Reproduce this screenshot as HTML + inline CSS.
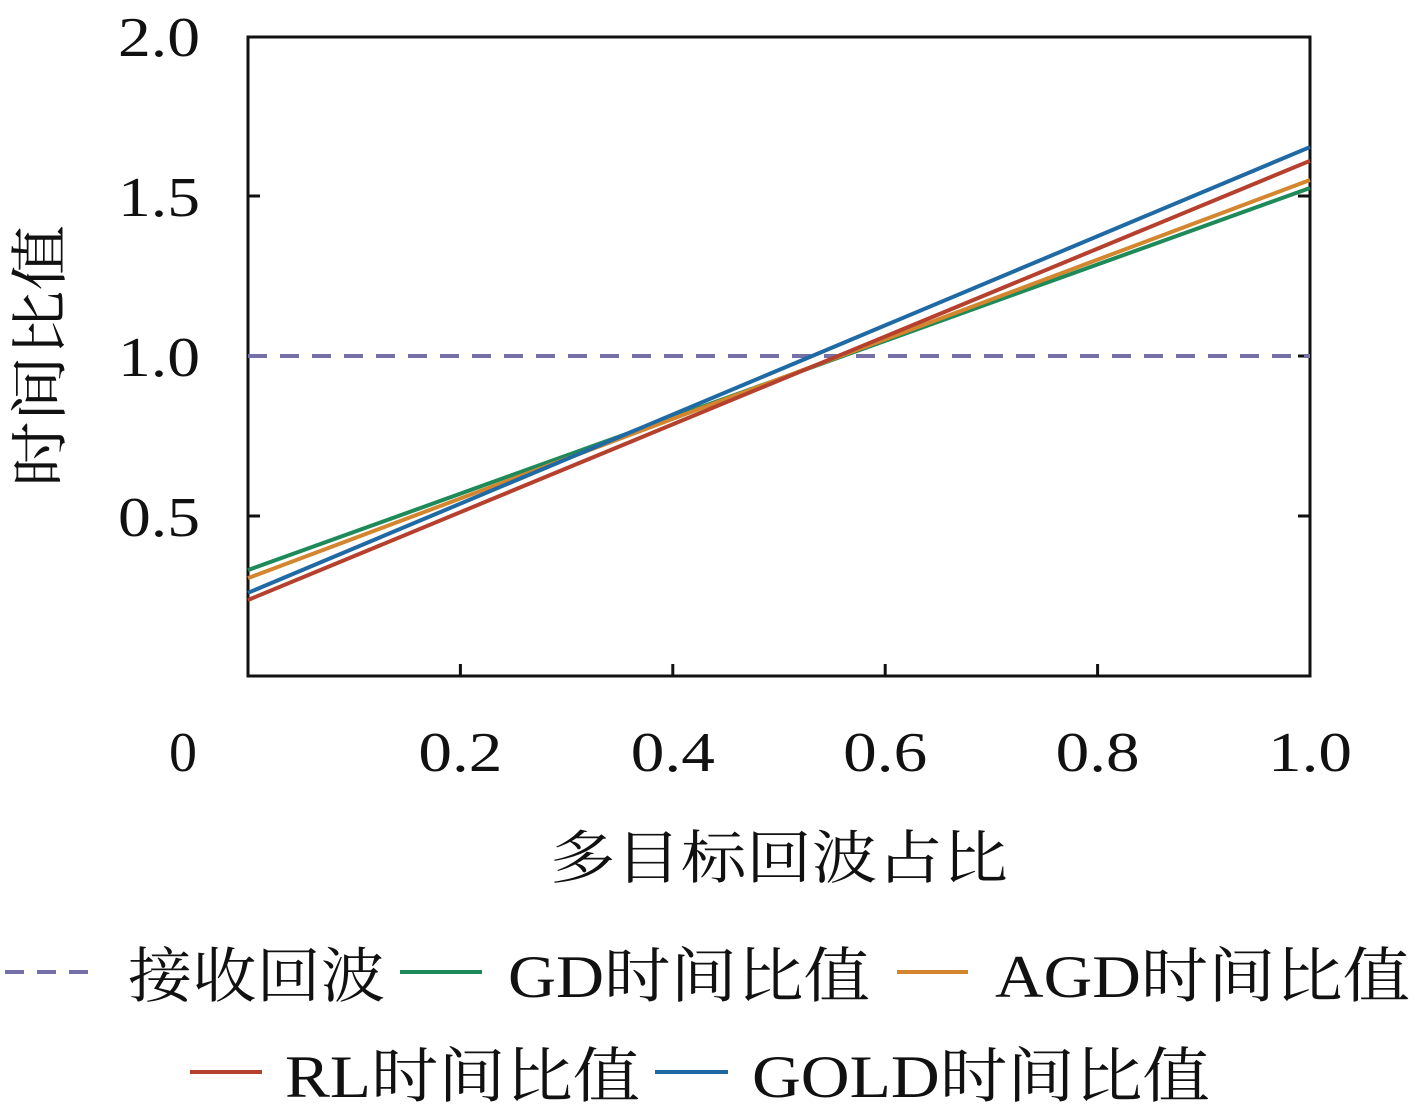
<!DOCTYPE html>
<html><head><meta charset="utf-8"><style>
html,body{margin:0;padding:0;background:#fff;}
svg text{font-family:"Liberation Serif","Noto Serif CJK SC","Noto Sans CJK SC",serif;fill:#111;}
</style></head><body>
<svg id="chart" width="1417" height="1111" viewBox="0 0 1417 1111" xmlns="http://www.w3.org/2000/svg">
<rect x="248" y="37" width="1062" height="639" fill="none" stroke="#111" stroke-width="3"/>
<g id="ticks"></g>
<g id="series"></g>
<text transform="translate(60,356) rotate(-90)" text-anchor="middle" font-size="58" textLength="262" lengthAdjust="spacingAndGlyphs">时间比值</text>
<text x="779" y="878" text-anchor="middle" font-size="58" textLength="458" lengthAdjust="spacingAndGlyphs">多目标回波占比</text>
<g>
<line x1="5" y1="972" x2="100" y2="972" stroke="#7570a8" stroke-width="4" stroke-dasharray="19,13"/>
<text x="128" y="997" font-size="60" textLength="257" lengthAdjust="spacingAndGlyphs">接收回波</text>
<line x1="400" y1="972" x2="482" y2="972" stroke="#1e8a5a" stroke-width="4"/>
<text x="508" y="997" font-size="60" textLength="362" lengthAdjust="spacingAndGlyphs">GD时间比值</text>
<line x1="897" y1="972" x2="968" y2="972" stroke="#d4862f" stroke-width="4"/>
<text x="995" y="997" font-size="60" textLength="415" lengthAdjust="spacingAndGlyphs">AGD时间比值</text>
<line x1="190" y1="1072" x2="262" y2="1072" stroke="#b5402e" stroke-width="4"/>
<text x="285" y="1097" font-size="60" textLength="355" lengthAdjust="spacingAndGlyphs">RL时间比值</text>
<line x1="655" y1="1072" x2="728" y2="1072" stroke="#1f6aa5" stroke-width="4"/>
<text x="752" y="1097" font-size="60" textLength="458" lengthAdjust="spacingAndGlyphs">GOLD时间比值</text>
</g>
</svg>
<script>
const xTicks=[0.2,0.4,0.6,0.8,1.0];
const xTickLabels=["0.2","0.4","0.6","0.8","1.0"];
const yTicks=[0.5,1.0,1.5,2.0];
const yTickLabels=["0.5","1.0","1.5","2.0"];
const xEnds=[0,1];
const gdValues=[0.331,1.525];
const agdValues=[0.306,1.55];
const rlValues=[0.2375,1.61];
const goldValues=[0.26,1.653];
const receivedValue=1.0;
const NS="http://www.w3.org/2000/svg";
const X=v=>248+v*1062, Y=v=>676-v*320;
const tg=document.getElementById('ticks'), sg=document.getElementById('series');
function mk(tag,attrs,parent){const e=document.createElementNS(NS,tag);for(const k in attrs)e.setAttribute(k,attrs[k]);parent.appendChild(e);return e;}
const z=mk('text',{x:183,y:771,'text-anchor':'middle','font-size':56},tg);z.textContent="0";


xTicks.forEach((v,i)=>{
 const t=mk('line',{x1:X(v),y1:676,x2:X(v),y2:664,stroke:'#111','stroke-width':3},tg);
 
 
 const l=mk('text',{x:X(v),y:771,'text-anchor':'middle','font-size':56,textLength:84,lengthAdjust:'spacingAndGlyphs'},tg);l.textContent=xTickLabels[i];
 
 
});
yTicks.forEach((v,i)=>{
 if(v<2){
 const a=mk('line',{x1:248,y1:Y(v),x2:260,y2:Y(v),stroke:'#111','stroke-width':3},tg);
 
 
 const b=mk('line',{x1:1298,y1:Y(v),x2:1310,y2:Y(v),stroke:'#111','stroke-width':3},tg);
 
 }
 const l=mk('text',{x:159,y:Y(v)+20,'text-anchor':'middle','font-size':56,textLength:82,lengthAdjust:'spacingAndGlyphs'},tg);l.textContent=yTickLabels[i];
 
 
});
const d=mk('line',{x1:X(0),y1:Y(receivedValue),x2:X(1),y2:Y(receivedValue),stroke:'#7570a8','stroke-width':4,'stroke-dasharray':'19,13'},sg);


[[gdValues,'#1e8a5a','gd-line'],[agdValues,'#d4862f','agd-line'],[rlValues,'#b5402e','rl-line'],[goldValues,'#1f6aa5','gold-line']].forEach(([vals,c,n])=>{
 const p=mk('polyline',{points:xEnds.map((x,i)=>X(x)+','+Y(vals[i])).join(' '),fill:'none',stroke:c,'stroke-width':4},sg);
 
 
});
</script>
</body></html>
